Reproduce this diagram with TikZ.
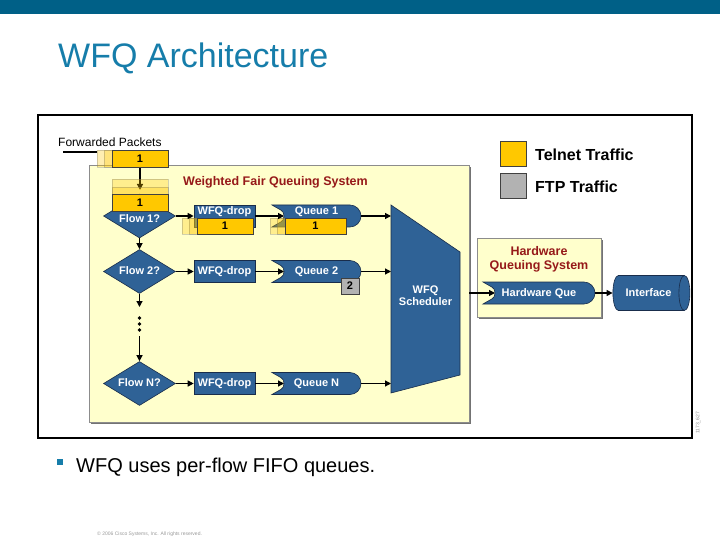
\documentclass[tikz,border=0pt]{standalone}
\usepackage{fontspec}
\setmainfont{Liberation Sans}
\usetikzlibrary{shapes.geometric, arrows.meta, shadows}

\definecolor{headbar}{RGB}{0,96,135}
\definecolor{titleblue}{RGB}{22,125,170}
\definecolor{qblue}{RGB}{47,98,150}
\definecolor{qborder}{RGB}{25,45,75}
\definecolor{pktyellow}{RGB}{255,200,0}
\definecolor{sysyellow}{RGB}{255,255,204}
\definecolor{darkred}{RGB}{150,25,25}
\definecolor{ftpgray}{RGB}{178,178,178}

% queue: name, x, y, width, label
\newcommand{\queue}[5]{%
  \filldraw[qbody] ({#2-#4/2},{#3-11})
    .. controls +(8,5) and +(0,-6) .. ({#2-#4/2+12},#3)
    .. controls +(0,6) and +(8,-5) .. ({#2-#4/2},{#3+11})
    -- ({#2+#4/2-11},{#3+11})
    .. controls +(6,0) and +(0,6) .. ({#2+#4/2},#3)
    .. controls +(0,-6) and +(6,0) .. ({#2+#4/2-11},{#3-11})
    -- cycle;
  \coordinate (#1in) at ({#2-#4/2+12},#3);
  \node[queue, minimum width=#4] (#1) at (#2,#3) {#5};
}

\begin{document}
\begin{tikzpicture}[x=1pt,y=-1pt]

\tikzset{qbody/.style = {fill=qblue, draw=qborder, line width=0.6pt}}
\tikzset{whitetxt/.style = {text=white, font=\bfseries\fontsize{11}{12}\selectfont, text height=8pt, text depth=2pt, inner sep=0}}
\tikzset{queue/.style = {whitetxt, minimum height=22}}
\tikzset{dropbox/.style = {whitetxt, qbody, minimum width=61, minimum height=22}}
\tikzset{flow/.style = {whitetxt, qbody, diamond, aspect=1.64, minimum width=72, minimum height=44}}
\tikzset{pkt/.style = {fill=pktyellow, draw=black!75, line width=0.6pt, minimum width=56, minimum height=16, inner sep=0, font=\bfseries\fontsize{11}{12}\selectfont}}
\tikzset{ghost/.style = {fill=pktyellow, draw=black!60, opacity=0.3}}
\tikzset{sysbox/.style = {fill=sysyellow, draw=black!45, line width=0.6pt, drop shadow={shadow xshift=1.5pt, shadow yshift=-2pt, fill=black!55, opacity=1}}}
\tikzset{edge/.style = {line width=1.2pt, -{Triangle[length=6pt,width=6pt]}}}

\useasboundingbox (0,0) rectangle (720,540);

%slide
\fill[headbar] (0,0) rectangle (720,14);
\node[anchor=base west, text=titleblue, font=\fontsize{34}{36}\selectfont, inner sep=0] (title) at (58,68) {WFQ Architecture};
\draw[line width=1.6pt] (38,115) rectangle (692,438);
\node[rotate=90, text=black!45, font=\fontsize{5}{6}\selectfont, inner sep=0] (figid) at (698,423) {1173\_627};

%systems
\node[anchor=base west, font=\fontsize{12}{14}\selectfont, inner sep=0] (fwd) at (58,147) {Forwarded Packets};
\coordinate (src) at (63,152);
\node[sysbox, minimum width=380, minimum height=257] (wfqsys) at (279,293.5) {};
\node[anchor=base west, text=darkred, font=\bfseries\fontsize{12.5}{14}\selectfont, inner sep=0] (wfqtitle) at (183,186) {Weighted Fair Queuing System};
\node[sysbox, minimum width=124, minimum height=79] (hwsys) at (539,277.5) {};
\node[text=darkred, align=center, font=\bfseries\fontsize{12.5}{13.5}\selectfont, inner sep=0] (hwtitle) at (539,259.5) {Hardware\\Queuing System};

%flows
\node[flow] (f1) at (139.5,216) {\raisebox{-3pt}{Flow 1?}};
\node[flow] (f2) at (139.5,271.5) {Flow 2?};
\node[flow] (fN) at (139.5,383.5) {Flow N?};
\node[dropbox] (d1) at (224.5,216) {\raisebox{5pt}{WFQ-drop}};
\node[dropbox] (d2) at (224.5,271.5) {WFQ-drop};
\node[dropbox] (dN) at (224.5,383.5) {WFQ-drop};
\queue{q1}{316.5}{216}{89}{\raisebox{5pt}{Queue 1}}
\queue{q2}{316.5}{271.5}{89}{Queue 2}
\queue{qN}{316.5}{383.5}{89}{Queue N}
\queue{hwq}{539}{293}{112}{Hardware Que}

%scheduler and interface
\filldraw[qbody] (391,205) -- (460,252) -- (460,375) -- (391,393) -- cycle;
\coordinate (schedL) at (391,299);
\node[whitetxt, align=center, text height=, text depth=] (sched) at (425.5,296) {WFQ\\Scheduler};
\node[cylinder, shape border rotate=0, shape aspect=1.1, qbody, whitetxt, minimum height=77, minimum width=35] (iface) at (648.5,293) {Interface};

%edges
\draw[line width=1.2pt] (src) -- (97,152);
\draw[edge] (140,167) -- (140,190);
\draw[edge] (f1.south) -- (f2.north);
\draw[edge] (f2.south) -- (139.5,307);
\foreach \y in {318,324,330} \fill (139.5,\y) circle (1.8);
\draw[edge] (139.5,336) -- (fN.north);
\draw[edge] (f2.east) -- (d2.west);
\draw[edge] (fN.east) -- (dN.west);
\draw[edge] (d2.east) -- (q2in);
\draw[edge] (dN.east) -- (qNin);
\draw[edge] (q1.east) -- (q1.east -| schedL);
\draw[edge] (q2.east) -- (q2.east -| schedL);
\draw[edge] (qN.east) -- (qN.east -| schedL);
\draw[edge] (wfqsys.east |- hwqin) -- (hwqin);
\draw[edge] (hwq.east) -- (iface.west);

%packets
\filldraw[ghost] (97,150) rectangle (153,167);
\filldraw[ghost] (104,150) rectangle (160,167);
\filldraw[ghost] (112,179) rectangle (168,195);
\filldraw[ghost] (112,187) rectangle (168,203);
\filldraw[ghost] (182,218) rectangle (238,234);
\filldraw[ghost] (189,218) rectangle (245,234);
\filldraw[ghost] (270,218) rectangle (326,234);
\filldraw[ghost] (277,218) rectangle (333,234);
\draw[edge] (f1.east) -- (d1.west);
\draw[edge] (d1.east) -- (q1in);
\node[pkt, minimum height=17] (p0) at (140,158.5) {1};
\node[pkt, minimum height=17] (p1) at (140,203) {1};
\node[pkt] (p2) at (225,226) {1};
\node[pkt, minimum width=61] (p3) at (315.5,226) {1};
\node[pkt, fill=ftpgray, minimum width=18] (p4) at (350,286) {2};

%legend
\node[pkt, minimum width=26, minimum height=25] (lgtelnet) at (513,153.5) {};
\node[pkt, fill=ftpgray, minimum width=26, minimum height=25] (lgftp) at (513,185.5) {};
\node[anchor=west, font=\bfseries\fontsize{16}{18}\selectfont, inner sep=0] (lgtelnettxt) at (535,155) {Telnet Traffic};
\node[anchor=west, font=\bfseries\fontsize{16}{18}\selectfont, inner sep=0] (lgftptxt) at (535,187) {FTP Traffic};

%bullet
\node[fill=titleblue, minimum size=6, inner sep=0] (bul) at (60,461.5) {};
\node[anchor=base west, font=\fontsize{20}{22}\selectfont, inner sep=0] (bultxt) at (76,472) {WFQ uses per-flow FIFO queues.};
\node[anchor=base west, text=black!40, font=\fontsize{5}{6}\selectfont, inner sep=0] (foot) at (97,535) {© 2006 Cisco Systems, Inc. All rights reserved.};

\end{tikzpicture}
\end{document}
